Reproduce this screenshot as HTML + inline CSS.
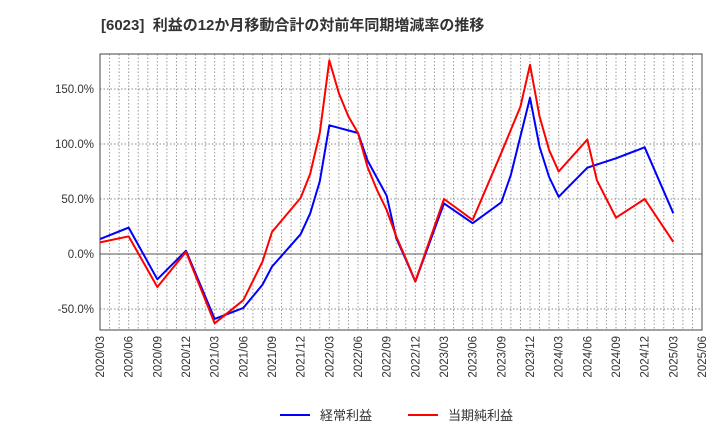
<!DOCTYPE html>
<html><head><meta charset="utf-8"><style>
body{margin:0;background:#fff;width:720px;height:440px;overflow:hidden}
svg text{font-family:"Liberation Sans","Noto Sans CJK JP",sans-serif}
</style></head><body>
<svg width="720" height="440" xmlns="http://www.w3.org/2000/svg">
<text x="101" y="30" font-size="15" font-weight="bold" fill="#333" xml:space="preserve">[6023]  利益の12か月移動合計の対前年同期増減率の推移</text>
<g id="grid"></g>
<g id="axes"></g>
<g id="series"></g>
<g>
<line x1="280" y1="415" x2="310" y2="415" stroke="#0000ff" stroke-width="2"/>
<text x="320" y="420" font-size="13" fill="#333">経常利益</text>
<line x1="408" y1="415" x2="438" y2="415" stroke="#ff0000" stroke-width="2"/>
<text x="448" y="420" font-size="13" fill="#333">当期純利益</text>
</g>
</svg>
<script>
const xLabels=["2020/03","2020/06","2020/09","2020/12","2021/03","2021/06","2021/09","2021/12","2022/03","2022/06","2022/09","2022/12","2023/03","2023/06","2023/09","2023/12","2024/03","2024/06","2024/09","2024/12","2025/03","2025/06"];
const yTicks=[150,100,50,0,-50];
const blueMonths=[0,3,6,9,12,15,17,18,21,22,23,24,27,28,30,31,32,33,36,39,42,43,44,45,46,47,48,51,54,57,60];
const blueValues=[13.6,24,-23,3,-59,-49,-28,-11.5,18,37,66,117,110,85,53,14.5,-5,-25,46,28,47,72,107,142,97.5,70,52,78.5,87,97,37];
const redMonths=[0,3,6,9,12,15,17,18,21,22,23,24,25,26,27,28,29,30,31,32,33,36,39,42,44,45,46,47,48,51,52,54,57,60];
const redValues=[10.6,16,-30,2,-63,-42,-7,20,51,73,110,176,146,125,110,79,58,40,16,-4,-25,50,31,92,134,172,125,94.5,75,104,67,33,50,11];
const L=100,R=702,T=54,B=330;
const xs=m=>L+m*(R-L)/63;
const ys=v=>254-v*1.1;
const NS="http://www.w3.org/2000/svg";
const grid=document.getElementById('grid'),axes=document.getElementById('axes'),ser=document.getElementById('series');
function mk(tag,attrs,parent){const e=document.createElementNS(NS,tag);for(const k in attrs)e.setAttribute(k,attrs[k]);parent.appendChild(e);return e;}
for(let m=1;m<63;m++){
  const l=mk('line',{x1:xs(m),x2:xs(m),y1:T,y2:B,stroke:'#999','stroke-dasharray':'1.5,2','stroke-width':1},grid);
  
  
}
yTicks.forEach(v=>{
  const l=mk('line',{x1:L,x2:R,y1:ys(v),y2:ys(v),stroke:v===0?'#555':'#888','stroke-dasharray':v===0?'':'1.5,2','stroke-width':1},grid);
  
  
  const t=mk('text',{x:L-6,y:ys(v)+4,'text-anchor':'end','font-size':11.5,fill:'#333'},axes);
  t.textContent=v.toFixed(1)+'%';
  
  
});
const fr=mk('rect',{x:L,y:T,width:R-L,height:B-T,fill:'none',stroke:'#444','stroke-width':1},axes);


xLabels.forEach((s,i)=>{
  const x=xs(i*3);
  const t=mk('text',{x:x+4,y:B+6,'text-anchor':'end','font-size':11.5,fill:'#333',transform:`rotate(-90 ${x+4} ${B+6})`},axes);
  t.textContent=s;
  
  
});
function line(ms,vs,color,name){
  const p=mk('polyline',{points:ms.map((m,i)=>xs(m)+','+ys(vs[i])).join(' '),fill:'none',stroke:color,'stroke-width':2,'stroke-linejoin':'round'},ser);
  
  
}
line(blueMonths,blueValues,'#0000ff','keijo-rieki-line');
line(redMonths,redValues,'#ff0000','junri-line');
</script>
</body></html>
